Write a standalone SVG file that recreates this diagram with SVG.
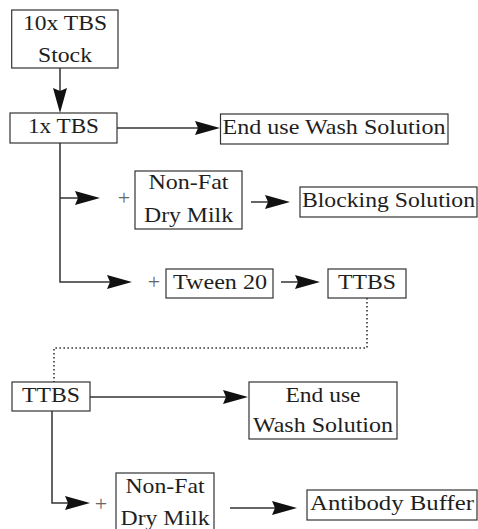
<svg xmlns="http://www.w3.org/2000/svg" width="478" height="529" viewBox="0 0 478 529">
  <style>
    .box { fill: #ffffff; stroke: #333333; stroke-width: 1.2; }
    .lbl { font-family: "Liberation Serif", "Times New Roman", serif; font-size: 21px; fill: #1e1e1e; text-anchor: middle; }
    .plus { font-family: "Liberation Serif", "Times New Roman", serif; font-size: 22px; fill: #666666; text-anchor: middle; }
    .wire { fill: none; stroke: #333333; stroke-width: 1.5; }
    .dot { fill: none; stroke: #333333; stroke-width: 1.6; stroke-dasharray: 1.6 2.4; }
  </style>
  <defs>
    <marker id="head" markerUnits="userSpaceOnUse" markerWidth="26" markerHeight="16" viewBox="0 -8 26 16" refX="20" refY="0" orient="auto">
      <path d="M0,-7 L25,0 L0,7 L3,0 Z" fill="#111111"/>
    </marker>
  </defs>

  <rect width="478" height="529" fill="#ffffff"/>

  <!-- connectors -->
  <g id="connectors">
    <line class="wire" x1="60" y1="68" x2="60" y2="108" marker-end="url(#head)"/>
    <line class="wire" x1="117" y1="128" x2="215" y2="128" marker-end="url(#head)"/>
    <polyline class="wire" points="60,143 60,282 127,282" marker-end="url(#head)"/>
    <line class="wire" x1="60" y1="198" x2="95" y2="198" marker-end="url(#head)"/>
    <line class="wire" x1="251" y1="202" x2="285" y2="202" marker-end="url(#head)"/>
    <line class="wire" x1="281" y1="282" x2="315" y2="282" marker-end="url(#head)"/>
    <path class="dot" d="M367,298 V348 H54 V382"/>
    <line class="wire" x1="90" y1="397" x2="243" y2="397" marker-end="url(#head)"/>
    <polyline class="wire" points="52,411 52,503 85,503" marker-end="url(#head)"/>
    <line class="wire" x1="230" y1="508" x2="292" y2="508" marker-end="url(#head)"/>
  </g>

  <!-- additives -->
  <g id="plus-signs">
    <text class="plus" x="124" y="205">+</text>
    <text class="plus" x="154" y="289">+</text>
    <text class="plus" x="101" y="511">+</text>
  </g>

  <g id="stock10x">
    <rect class="box" x="11.7" y="10" width="106.3" height="58"/>
    <text class="lbl" x="65" y="30" textLength="84" lengthAdjust="spacingAndGlyphs">10x TBS</text>
    <text class="lbl" x="65" y="62" textLength="54" lengthAdjust="spacingAndGlyphs">Stock</text>
  </g>

  <g id="tbs1x">
    <rect class="box" x="10" y="113" width="107" height="30"/>
    <text class="lbl" x="63.5" y="133" textLength="71" lengthAdjust="spacingAndGlyphs">1x TBS</text>
  </g>

  <g id="wash1">
    <rect class="box" x="220.5" y="114" width="227.5" height="30"/>
    <text class="lbl" x="334" y="134" textLength="223" lengthAdjust="spacingAndGlyphs">End use Wash Solution</text>
  </g>

  <g id="milk1">
    <rect class="box" x="135" y="171" width="107" height="58"/>
    <text class="lbl" x="188.5" y="189" textLength="80" lengthAdjust="spacingAndGlyphs">Non-Fat</text>
    <text class="lbl" x="188.5" y="222" textLength="89" lengthAdjust="spacingAndGlyphs">Dry Milk</text>
  </g>

  <g id="blocking">
    <rect class="box" x="300" y="187" width="177" height="30"/>
    <text class="lbl" x="388.5" y="207" textLength="173" lengthAdjust="spacingAndGlyphs">Blocking Solution</text>
  </g>

  <g id="tween">
    <rect class="box" x="166" y="269" width="107" height="29"/>
    <text class="lbl" x="220" y="289" textLength="94" lengthAdjust="spacingAndGlyphs">Tween 20</text>
  </g>

  <g id="ttbs1">
    <rect class="box" x="328" y="269" width="78" height="29"/>
    <text class="lbl" x="367" y="289" textLength="58" lengthAdjust="spacingAndGlyphs">TTBS</text>
  </g>

  <g id="ttbs2">
    <rect class="box" x="12" y="382" width="78" height="29"/>
    <text class="lbl" x="51" y="402" textLength="58" lengthAdjust="spacingAndGlyphs">TTBS</text>
  </g>

  <g id="wash2">
    <rect class="box" x="249" y="382" width="148" height="57"/>
    <text class="lbl" x="323" y="402" textLength="75" lengthAdjust="spacingAndGlyphs">End use</text>
    <text class="lbl" x="323" y="432" textLength="140" lengthAdjust="spacingAndGlyphs">Wash Solution</text>
  </g>

  <g id="milk2">
    <rect class="box" x="116" y="473" width="98" height="62"/>
    <text class="lbl" x="165" y="493" textLength="79" lengthAdjust="spacingAndGlyphs">Non-Fat</text>
    <text class="lbl" x="165" y="525" textLength="89" lengthAdjust="spacingAndGlyphs">Dry Milk</text>
  </g>

  <g id="antibody">
    <rect class="box" x="307" y="490" width="170" height="30"/>
    <text class="lbl" x="392" y="510" textLength="164" lengthAdjust="spacingAndGlyphs">Antibody Buffer</text>
  </g>
</svg>
